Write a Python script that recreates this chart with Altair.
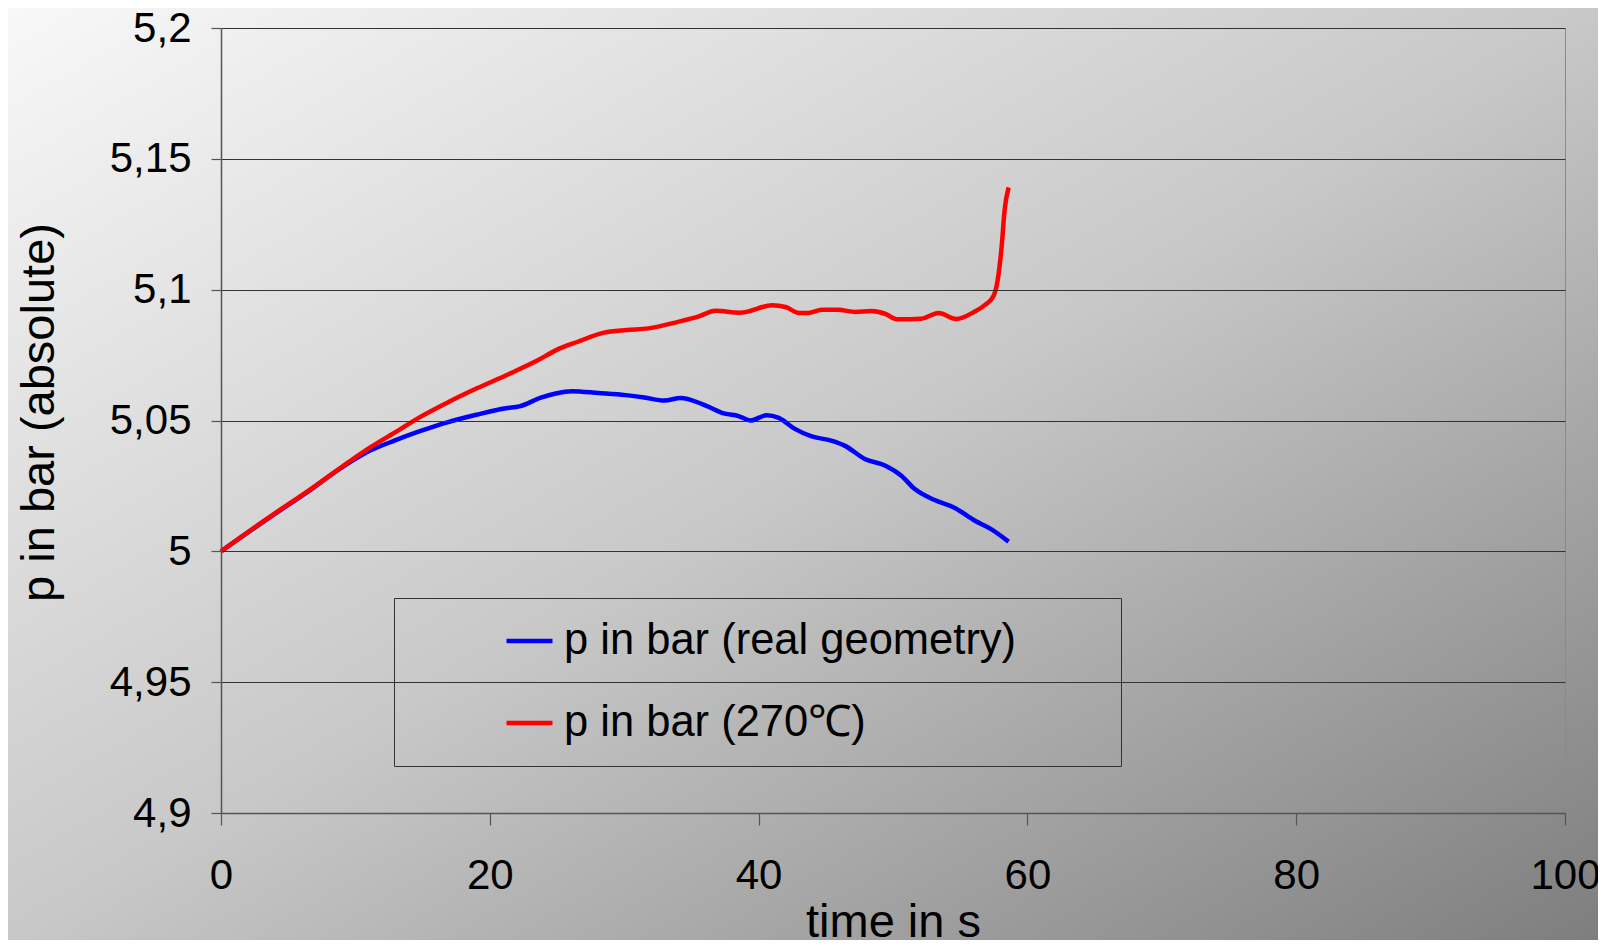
import altair as alt
import pandas as pd

# ---- data ----
blue_label = "p in bar (real geometry)"
red_label = "p in bar (270\u2103)"

blue_t = [0, 3.6, 6.3, 9.0, 11.1, 12.9, 14.8, 16.9, 19.0, 21.2, 22.2, 23.8, 24.9, 26.1,
          28.1, 30.1, 31.5, 33.0, 34.2, 35.8, 37.5, 38.5, 39.4, 40.6, 41.5, 42.7, 43.9,
          45.4, 46.4, 47.9, 49.4, 50.6, 51.6, 53.1, 54.6, 56.1, 57.3, 58.6]
blue_p = [5.000, 5.0129, 5.0222, 5.0321, 5.0385, 5.0423, 5.0459, 5.0494, 5.0522, 5.0547,
          5.0554, 5.0587, 5.0603, 5.0612, 5.0605, 5.0597, 5.0588, 5.0576, 5.0586, 5.0563,
          5.0526, 5.0517, 5.0500, 5.0520, 5.0510, 5.0468, 5.0440, 5.0423, 5.0404, 5.0353,
          5.0328, 5.0290, 5.0239, 5.0196, 5.0166, 5.0117, 5.0085, 5.0037]

red_t = [0, 3.6, 6.3, 9.0, 11.1, 13.2, 14.8, 16.9, 19.0, 21.4, 23.6, 24.9, 26.5, 28.5,
         30.2, 31.8, 34.0, 35.5, 36.8, 38.6, 41.0, 42.0, 43.0, 43.7, 44.7, 45.9, 47.2,
         48.4, 49.4, 50.3, 52.1, 53.4, 54.7, 56.0, 56.8, 57.5, 57.8, 58.1, 58.3, 58.6]
red_p = [5.000, 5.0131, 5.0224, 5.0323, 5.0397, 5.0462, 5.0513, 5.0570, 5.0622, 5.0677,
         5.0731, 5.0768, 5.0800, 5.0836, 5.0846, 5.0852, 5.0877, 5.0897, 5.0919, 5.0912,
         5.0940, 5.0934, 5.0911, 5.0911, 5.0923, 5.0923, 5.0915, 5.0918, 5.0908, 5.0887,
         5.0889, 5.0911, 5.0888, 5.0914, 5.0940, 5.0978, 5.1040, 5.1174, 5.1302, 5.1391]

x_ticks = [0, 20, 40, 60, 80, 100]
y_ticks = [4.9, 4.95, 5.0, 5.05, 5.1, 5.15, 5.2]

series_names = [blue_label, red_label]
series_colors = ["#0000FF", "#FF0000"]

df = pd.concat([
    pd.DataFrame({"t": blue_t, "p": blue_p, "series": blue_label, "order": range(len(blue_t))}),
    pd.DataFrame({"t": red_t, "p": red_p, "series": red_label, "order": range(len(red_t))}),
])

FONT = "Liberation Sans"
W, H = 1344, 785
PAD = {"left": 213, "top": 20, "right": 33, "bottom": 127}

gradient = alt.Gradient(
    gradient="linear",
    stops=[alt.GradientStop(offset=0, color="#f8f8f8"),
           alt.GradientStop(offset=0.5, color="#c8c8c8"),
           alt.GradientStop(offset=1, color="#7e7e7e")],
    x1=0, y1=0, x2=1, y2=1,
)

background = alt.Chart(alt.Data(values=[{}])).mark_rect(fill=gradient, strokeWidth=0).encode(
    x=alt.value(-PAD["left"]), x2=alt.value(W + PAD["right"]),
    y=alt.value(-PAD["top"]), y2=alt.value(H + PAD["bottom"]),
)

nb = "\u00a0"
zw = "\u200b"
lines = alt.Chart(df).mark_line(strokeWidth=4.5, interpolate="monotone").encode(
    x=alt.X("t:Q",
            scale=alt.Scale(domain=[0, 100], nice=False),
            axis=alt.Axis(values=x_ticks, title="time in s", grid=True,
                          gridColor=alt.condition("datum.value == 100", alt.value("#8a8a8a"), alt.value("transparent")),
                          gridWidth=1,
                          labelFlush=False, labelOverlap=False,
                          tickSize=12, labelPadding=30, titlePadding=3,
                          labelFontSize=42, titleFontSize=47, zindex=1)),
    y=alt.Y("p:Q",
            scale=alt.Scale(domain=[4.9, 5.2], nice=False, zero=False),
            axis=alt.Axis(values=y_ticks, title="p in bar (absolute)", grid=True,
                          gridColor="#333333", gridWidth=1,
                          labelExpr="replace(format(datum.value, '.2~f'), '.', ',')",
                          labelOverlap=False, tickSize=10, labelPadding=20,
                          titlePadding=46, titleY=384,
                          labelFontSize=42, titleFontSize=47, zindex=1)),
    color=alt.Color("series:N",
                    scale=alt.Scale(domain=series_names, range=series_colors),
                    legend=alt.Legend(
                        title=zw + nb * 10 + zw, titleOrient="left", titleFontSize=32.4,
                        titlePadding=0,
                        orient="none", legendX=173, legendY=570,
                        padding=20, strokeColor="#333333",
                        symbolType="stroke", symbolSize=2116, symbolStrokeWidth=4.5,
                        labelFontSize=43.5, labelFont=FONT, labelColor="#000000",
                        labelOffset=9, labelLimit=2000, rowPadding=36, clipHeight=46,
                        labelExpr="datum.label + '" + nb * 7 + zw + "'",
                    )),
    order="order:Q",
)

chart = alt.layer(background, lines).properties(
    width=W, height=H,
    autosize=alt.AutoSizeParams(type="none"),
    padding=PAD,
).configure(
    font=FONT,
    background="#ffffff",
).configure_view(
    strokeWidth=0,
).configure_axis(
    labelFont=FONT, titleFont=FONT, labelColor="#000000", titleColor="#000000",
    titleFontWeight="normal", domainColor="#555555", tickColor="#555555",
    domainWidth=1.5, tickWidth=1.2,
)

chart.save("out.html", embed_options={"renderer": "svg", "actions": False})
